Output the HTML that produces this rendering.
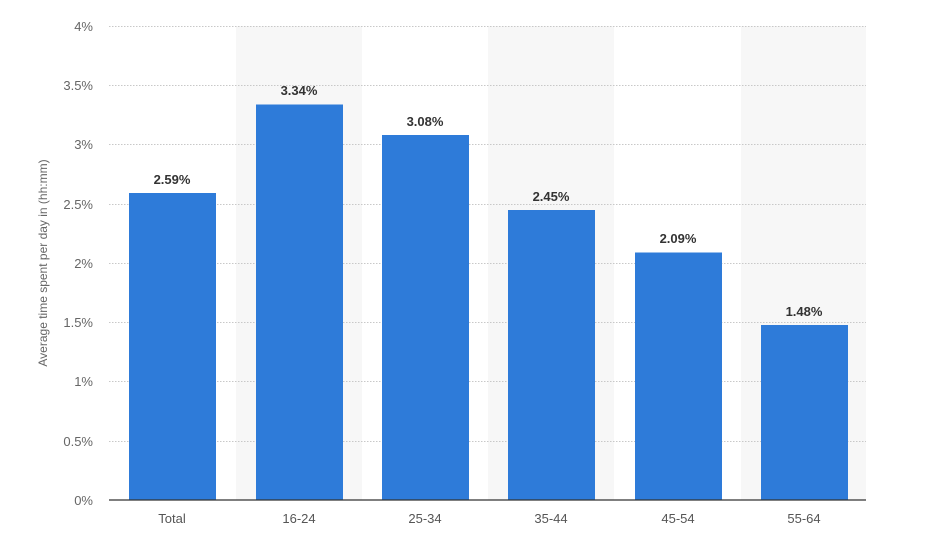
<!DOCTYPE html><html><head><meta charset="utf-8"><style>body{margin:0;background:#fff}svg{display:block}</style></head><body>
<svg width="931" height="541" xmlns="http://www.w3.org/2000/svg" font-family="Liberation Sans, sans-serif">
<rect width="931" height="541" fill="#fff"/>
<g fill="#f7f7f7"><rect x="236" y="26" width="126" height="474"/><rect x="488" y="26" width="126" height="474"/><rect x="741" y="26" width="125" height="474"/></g>
<g stroke="#c8c8c8" stroke-dasharray="1.5,1.5" stroke-width="1">
<line x1="109" x2="866" y1="26.5" y2="26.5"/><line x1="109" x2="866" y1="85.5" y2="85.5"/><line x1="109" x2="866" y1="144.5" y2="144.5"/><line x1="109" x2="866" y1="204.5" y2="204.5"/><line x1="109" x2="866" y1="263.5" y2="263.5"/><line x1="109" x2="866" y1="322.5" y2="322.5"/><line x1="109" x2="866" y1="381.5" y2="381.5"/><line x1="109" x2="866" y1="441.5" y2="441.5"/></g>
<g fill="#2e7bd9"><rect x="129" y="193" width="87" height="307"/><rect x="256" y="104.5" width="87" height="395.5"/><rect x="382" y="135" width="87" height="365"/><rect x="508" y="210" width="87" height="290"/><rect x="635" y="252.5" width="87" height="247.5"/><rect x="761" y="325" width="87" height="175"/></g>
<line x1="109" x2="866" y1="500" y2="500" stroke="#333" stroke-width="1.2"/>
<g font-size="13" fill="#666" text-anchor="end">
<text x="93" y="31">4%</text><text x="93" y="90">3.5%</text><text x="93" y="149">3%</text><text x="93" y="209">2.5%</text><text x="93" y="268">2%</text><text x="93" y="327">1.5%</text><text x="93" y="386">1%</text><text x="93" y="446">0.5%</text><text x="93" y="505">0%</text></g>
<g font-size="13" fill="#555" text-anchor="middle">
<text x="172" y="523">Total</text><text x="299" y="523">16-24</text><text x="425" y="523">25-34</text><text x="551" y="523">35-44</text><text x="678" y="523">45-54</text><text x="804" y="523">55-64</text></g>
<g font-size="13" font-weight="bold" fill="#333" text-anchor="middle">
<text x="172" y="184">2.59%</text><text x="299" y="95">3.34%</text><text x="425" y="126">3.08%</text><text x="551" y="201">2.45%</text><text x="678" y="243">2.09%</text><text x="804" y="316">1.48%</text></g>
<text transform="translate(47,263) rotate(-90)" font-size="12" fill="#666" text-anchor="middle">Average time spent per day in (hh:mm)</text>
</svg></body></html>
